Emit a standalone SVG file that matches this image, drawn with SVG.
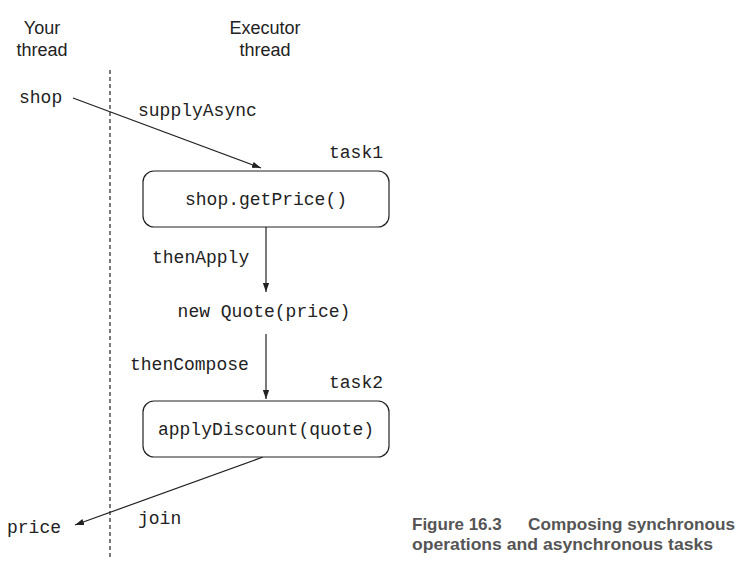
<svg xmlns="http://www.w3.org/2000/svg" width="750" height="578" viewBox="0 0 750 578">
<style>
.hdr{font-family:"Liberation Sans",Arial,sans-serif;font-size:18px;fill:#222;text-anchor:middle}
.code{font-family:"Liberation Mono","Courier New",monospace;font-size:18px;fill:#222}
.box{fill:#fff;stroke:#222;stroke-width:1.2}
.ln{stroke:#222;stroke-width:1.2;fill:none}
.cap{font-family:"Liberation Sans",Arial,sans-serif;font-size:17px;font-weight:bold;fill:#555}
</style>
<defs>
<marker id="ah" viewBox="0 0 10 10" refX="10" refY="5" markerWidth="9" markerHeight="9" markerUnits="userSpaceOnUse" orient="auto">
<path d="M0,1.5 L10,5 L0,8.5 Z" fill="#222"/>
</marker>
</defs>
<rect width="750" height="578" fill="#fff"/>
<g id="headers">
<text class="hdr" x="42" y="34">Your</text>
<text class="hdr" x="42" y="56">thread</text>
<text class="hdr" x="265" y="34">Executor</text>
<text class="hdr" x="265" y="56">thread</text>
</g>
<line x1="110" y1="70" x2="110" y2="557" stroke="#222" stroke-width="1.2" stroke-dasharray="4,3"/>
<g id="connectors">
<line class="ln" x1="73" y1="98" x2="261" y2="168" marker-end="url(#ah)"/>
<line class="ln" x1="266" y1="227" x2="266" y2="292" marker-end="url(#ah)"/>
<line class="ln" x1="266" y1="334" x2="266" y2="399" marker-end="url(#ah)"/>
<line class="ln" x1="263" y1="457" x2="75" y2="525" marker-end="url(#ah)"/>
<text class="code" x="138" y="116">supplyAsync</text>
<text class="code" x="152" y="263">thenApply</text>
<text class="code" x="130" y="370">thenCompose</text>
<text class="code" x="138" y="524">join</text>
</g>
<g id="shop"><text class="code" x="19" y="103">shop</text></g>
<g id="task1">
<text class="code" x="329" y="158">task1</text>
<rect class="box" x="143" y="171" width="246" height="56" rx="11"/>
<text class="code" x="266" y="205" text-anchor="middle">shop.getPrice()</text>
</g>
<g id="quote"><text class="code" x="264" y="317" text-anchor="middle">new Quote(price)</text></g>
<g id="task2">
<text class="code" x="329" y="388">task2</text>
<rect class="box" x="143" y="401" width="246" height="56" rx="11"/>
<text class="code" x="266" y="435" text-anchor="middle">applyDiscount(quote)</text>
</g>
<g id="price"><text class="code" x="7" y="533">price</text></g>
<g id="caption">
<text class="cap" x="412" y="530">Figure 16.3</text>
<text class="cap" x="528" y="530" textLength="207" lengthAdjust="spacingAndGlyphs">Composing synchronous</text>
<text class="cap" x="412" y="550" textLength="301" lengthAdjust="spacingAndGlyphs">operations and asynchronous tasks</text>
</g>
</svg>
